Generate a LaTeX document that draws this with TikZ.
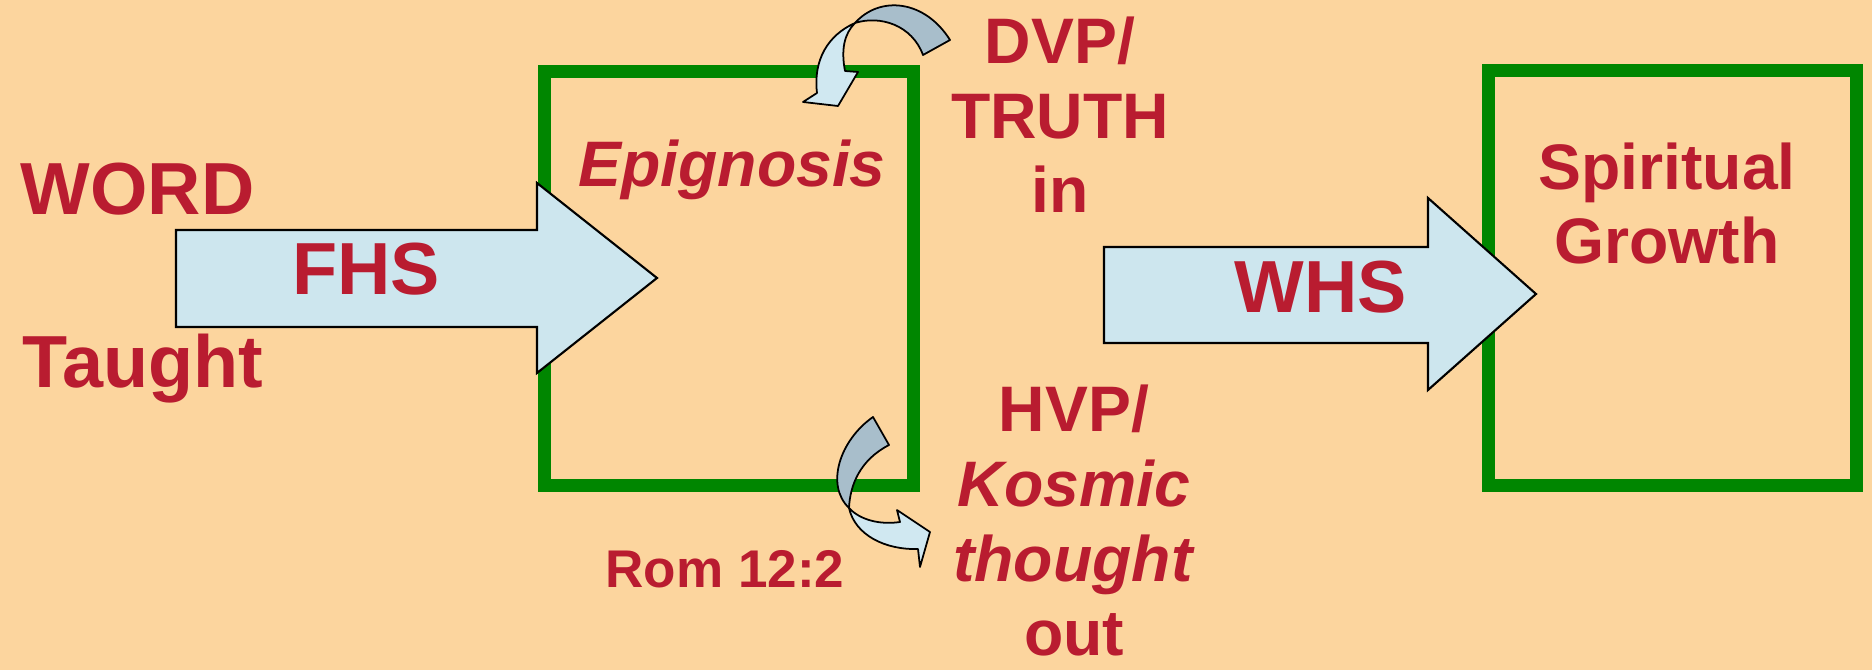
\documentclass[tikz,border=0pt]{standalone}
\usepackage{fontspec}
\setmainfont{Liberation Sans}

\definecolor{peach}{RGB}{252,213,158}
\definecolor{boxgreen}{RGB}{0,134,0}
\definecolor{wordred}{RGB}{185,28,48}
\definecolor{arrowblue}{RGB}{205,230,238}
\definecolor{ribbonback}{RGB}{168,190,203}
\definecolor{ribbonfront}{RGB}{208,232,241}

\tikzset{
  greenbox/.style={draw=boxgreen, line width=1.3mm, inner sep=0pt},
  blockarrow/.style={fill=arrowblue, draw=black, line width=0.6pt},
  ribbon/.style={draw=black, line width=0.5pt, line join=round},
  bigtxt/.style={text=wordred, font=\fontsize{21}{25}\selectfont\bfseries, inner sep=0pt},
  midtxt/.style={text=wordred, font=\fontsize{18.3}{21.3}\selectfont\bfseries, inner sep=0pt, align=center},
  smalltxt/.style={text=wordred, font=\fontsize{15.1}{18}\selectfont\bfseries, inner sep=0pt}
}

\begin{document}
\begin{tikzpicture}[x=0.1mm, y=-0.1mm]
  \fill[peach] (0,0) rectangle (1872,670);
  \useasboundingbox (0,0) rectangle (1872,670);

  % boxes
  \node[greenbox, minimum width=36.9mm, minimum height=41.4mm] (mind) at (728.5,279) {};
  \node[greenbox, minimum width=36.8mm, minimum height=41.5mm] (growth) at (1672,278.5) {};

  % block arrows
  \draw[blockarrow] (176,230) -- (537,230) -- (537,183) -- (657,278) -- (537,373) -- (537,327) -- (176,327) -- cycle;
  \draw[blockarrow] (1104,247) -- (1428,247) -- (1428,198) -- (1536,294) -- (1428,390) -- (1428,343) -- (1104,343) -- cycle;

  % curved arrow, top
  \draw[ribbon, fill=ribbonback] (950,40) .. controls (925,0) and (880,-5) .. (855,23)
    .. controls (880,15) and (912,25) .. (923,55) -- cycle;
  \draw[ribbon, fill=ribbonfront] (855,23) .. controls (828,35) and (813,60) .. (817,93)
    -- (803,102) -- (838,106) -- (858,72) -- (845,71)
    .. controls (841,50) and (844,34) .. (855,23) -- cycle;

  % curved arrow, bottom
  \draw[ribbon, fill=ribbonback] (873,417) .. controls (840,440) and (825,485) .. (849,508)
    .. controls (850,485) and (860,460) .. (889,445) -- cycle;
  \draw[ribbon, fill=ribbonfront] (849,508) .. controls (855,535) and (885,550) .. (918,549)
    -- (920,567) -- (930,532) -- (897,510) -- (900,522)
    .. controls (880,525) and (860,520) .. (849,508) -- cycle;

  % texts (base of a multi-line node = its last line)
  \node[bigtxt, anchor=base west] (word) at (20,215) {WORD};
  \node[bigtxt, anchor=base west] (taught) at (22,388) {Taught};
  \node[bigtxt, anchor=base] (fhs) at (366,295) {FHS};
  \node[bigtxt, anchor=base] (whs) at (1321,313) {WHS};
  \node[midtxt, anchor=base] (epi) at (732,187) {\itshape Epignosis};
  \node[midtxt, anchor=base] (dvp) at (1060,213) {DVP/\\TRUTH\\in};
  \node[midtxt, anchor=base] (hvp) at (1074,656) {HVP/\\\textit{Kosmic}\\\textit{thought}\\out};
  \node[midtxt, anchor=base] (spirit) at (1667,264) {Spiritual\\Growth};
  \node[smalltxt, anchor=base] (rom) at (725,588) {Rom 12:2};
\end{tikzpicture}
\end{document}
